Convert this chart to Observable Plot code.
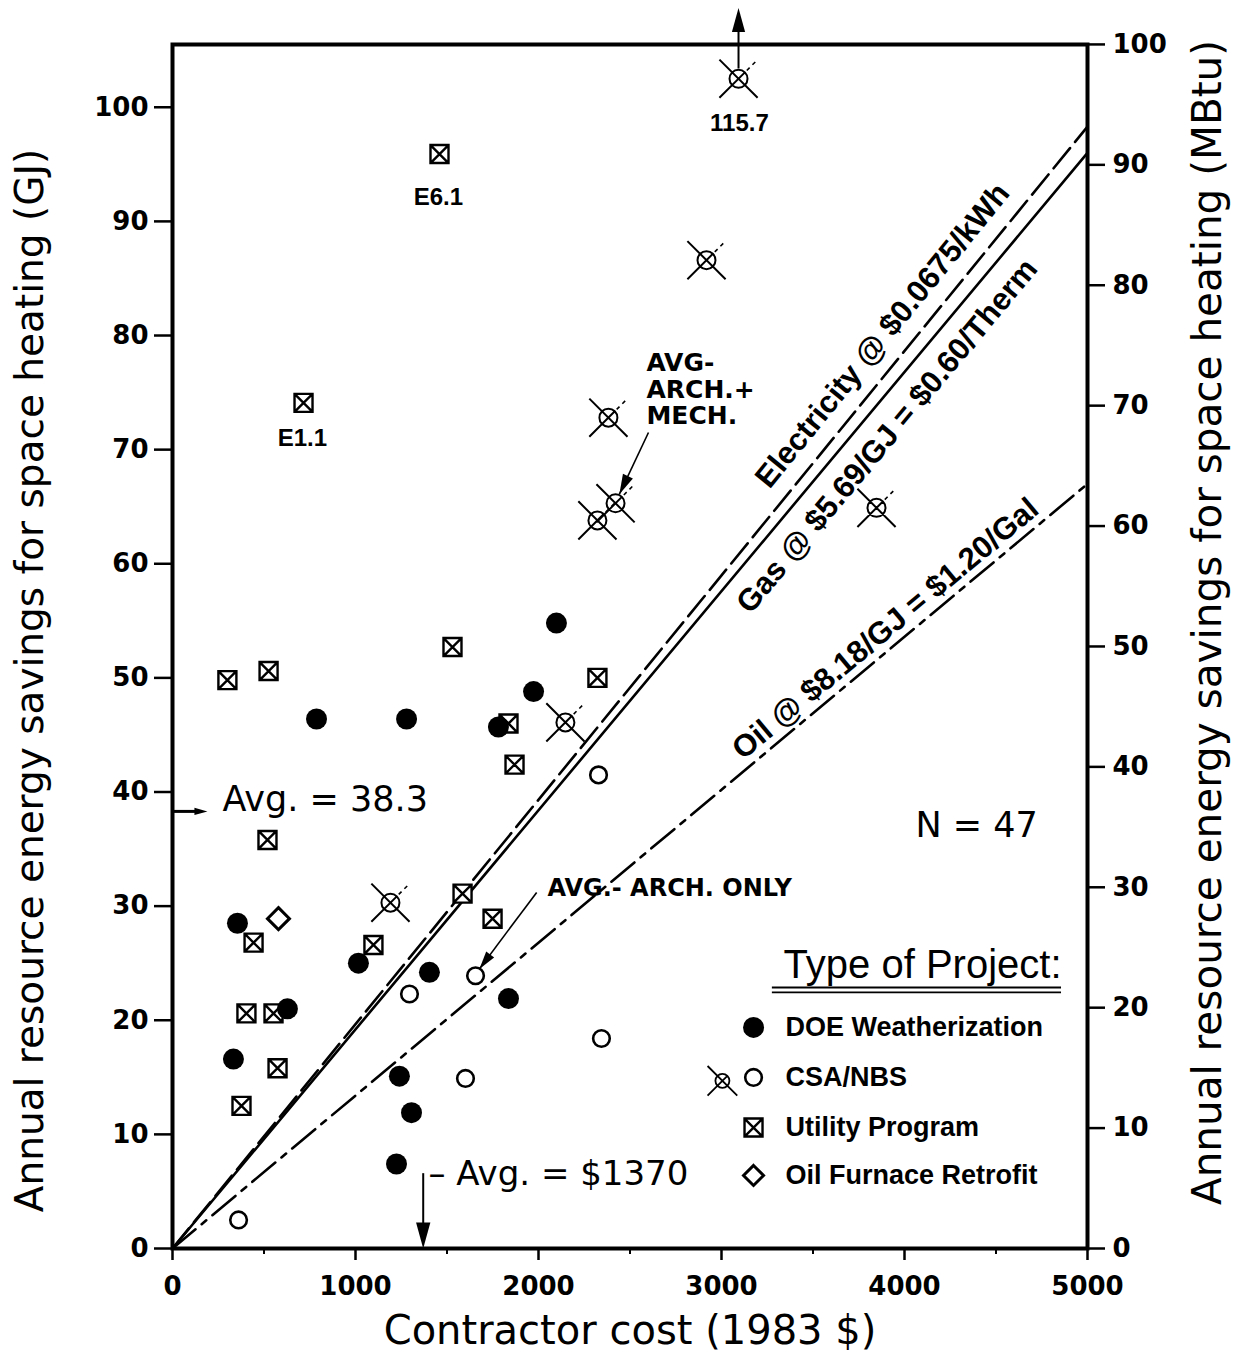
<!DOCTYPE html>
<html>
<head>
<meta charset="utf-8">
<script src="https://cdn.jsdelivr.net/npm/d3@7"></script>
<script src="https://cdn.jsdelivr.net/npm/@observablehq/plot@0.6"></script>
<style>
  html, body { margin: 0; padding: 0; background: #fff; }
  #chart svg { display: block; }
</style>
</head>
<body>
<div id="chart"></div>
<script>
// ---------------- DATA ----------------
const xDomain = [0, 5000];          // contractor cost (1983 $)
const yDomain = [0, 105.5];         // GJ (top of frame = 100 MBtu)
const GJ_PER_MBTU = 1.05506;
const xTicks = [0, 1000, 2000, 3000, 4000, 5000];
const xMinorTicks = [500, 1500, 2500, 3500, 4500];
const yTicks = [0, 10, 20, 30, 40, 50, 60, 70, 80, 90, 100];
const mbtuTicks = [0, 10, 20, 30, 40, 50, 60, 70, 80, 90, 100];

// [cost $, savings GJ]
const doeWeatherization = [
  [787, 46.4], [1279, 46.4], [2098, 54.8], [1973, 48.8], [1781, 45.7],
  [355, 28.5], [1016, 25.0], [1404, 24.2], [628, 21.0], [1836, 21.9],
  [333, 16.6], [1240, 15.1], [1306, 11.9], [1224, 7.4]
];
const csaNbs = [[361, 2.5], [1295, 22.3], [1656, 23.9], [1601, 14.9], [2344, 18.4], [2328, 41.5]];
const csaNbsCrossed = [
  [3093, 102.5], [2918, 86.6], [2382, 72.8], [2421, 65.3],
  [2322, 63.8], [3847, 64.9], [2147, 46.1], [1191, 30.3]
];
const utilityProgram = [
  [1459, 95.9], [716, 74.1], [300, 49.8], [525, 50.6], [1530, 52.7], [2322, 50.0],
  [1869, 42.4], [1836, 46.0], [519, 35.8], [443, 26.8], [404, 20.6], [552, 20.6],
  [574, 15.8], [377, 12.5], [1098, 26.6], [1585, 31.1], [1749, 28.9]
];
const oilFurnaceRetrofit = [[579, 28.9]];

// break-even lines: savings (GJ) at $5000
const fuelNames = ["Electricity", "Gas", "Oil"];
const fuelLabels = ["Electricity @ $0.0675/kWh", "Gas @ $5.69/GJ = $0.60/Therm", "Oil @ $8.18/GJ = $1.20/Gal"];
const fuelSavingsAt5000 = [98.3, 96.0, 67.0];
const fuelLabelAt = [[3880, 80.0], [3905, 71.2], [3896, 54.3]];

// annotations
const pointLabelText = ["E6.1", "E1.1", "115.7"];
const pointLabelAt = [[1453, 92.1], [710, 71.0], [3098, 98.6]];
const offscaleArrow = {x: 3093, from: 103.4, base: 106.6, tip: 108.7};
const avgCost = 1370;
const avgSavings = 38.3;
const sampleSize = 47;
const archMechLabel = "AVG-\nARCH.+\nMECH.";
const archMechLabelAt = [2590, 78.5];
const archMechPointer = [[2601, 71.5], [2442, 66.1]];
const archOnlyLabel = "AVG.- ARCH. ONLY";
const archOnlyLabelAt = [2049, 31.6];
const archOnlyPointer = [[1990, 31.2], [1677, 24.5]];

// legend
const legendTitle = "Type of Project:";
const legendLabels = ["DOE Weatherization", "CSA/NBS", "Utility Program", "Oil Furnace Retrofit"];
const legendRowsY = [19.37, 14.99, 10.6, 6.4];
const legendSymbolX = 3175, legendTextX = 3350, legendCrossedX = 3005;
const legendTitleAt = [4858, 24.8];
const legendUnderline = {x1: 3278, x2: 4858, y: [22.87, 22.44]};

const xTitle = "Contractor cost (1983 $)";
const yTitleLeft = "Annual resource energy savings for space heating (GJ)";
const yTitleRight = "Annual resource energy savings for space heating (MBtu)";

// ---------------- LAYOUT ----------------
const W = 1237, H = 1354;
const mL = 172, mR = 150, mT = 44, mB = 106;
const pxX = (W - mL - mR) / (xDomain[1] - xDomain[0]);
const pxY = (H - mT - mB) / (yDomain[1] - yDomain[0]);
const headingDeg = (a, b) => Math.atan2((b[0] - a[0]) * pxX, (b[1] - a[1]) * pxY) * 180 / Math.PI;
const lineAngle = s => -Math.atan((s / 5000) * pxY / pxX) * 180 / Math.PI;

// ---------------- SYMBOLS ----------------
const rOf = size => Math.sqrt(size / Math.PI);
const hourglassSquare = {draw(c, size) {
  const r = rOf(size);
  c.moveTo(-r, -r); c.lineTo(r, -r); c.lineTo(r, r); c.lineTo(-r, r); c.closePath();
  c.moveTo(-r, -r); c.lineTo(r, r); c.moveTo(r, -r); c.lineTo(-r, r);
}};
const diamondSym = {draw(c, size) {
  const r = rOf(size);
  c.moveTo(0, -r); c.lineTo(r, 0); c.lineTo(0, r); c.lineTo(-r, 0); c.closePath();
}};
const k = Math.SQRT1_2;
const crossedSolid = {draw(c, size) {
  const r = rOf(size), L = r * 3.0;
  c.moveTo(r, 0); c.arc(0, 0, r, 0, 2 * Math.PI);
  c.moveTo(-L * k, -L * k); c.lineTo(L * k, L * k);      // UL -> LR
  c.moveTo(-L * k, L * k); c.lineTo(r * k, -r * k);      // LL -> centre -> circle edge UR
}};
const crossedDashed = {draw(c, size) {
  const r = rOf(size), L = r * 3.0;
  c.moveTo(r * 1.3 * k, -r * 1.3 * k); c.lineTo(L * k, -L * k);
}};
const arrowHead = {draw(c, size) {
  const r = rOf(size);   // tip at origin, pointing up, length 2r
  c.moveTo(0, 0); c.lineTo(r * 0.55, r * 2); c.lineTo(-r * 0.55, r * 2); c.closePath();
}};

const X = d => d[0], Y = d => d[1];
const DV = "DejaVu Sans", LS = "Liberation Sans";
const dashes = ["26,8", null, "30,8,6,8"];

const fuelLineData = fuelNames.map((f, i) => [[0, 0, f], [xDomain[1], fuelSavingsAt5000[i], f]]);

const plot = Plot.plot({
  width: W, height: H,
  marginLeft: mL, marginRight: mR, marginTop: mT, marginBottom: mB,
  x: {domain: xDomain},
  y: {domain: yDomain},
  style: {background: "white", color: "black", fontFamily: DV, overflow: "visible"},
  marks: [
    // axes
    Plot.axisY({anchor: "left", ticks: yTicks, tickSize: 18, tickPadding: 6, fontSize: 26, fontWeight: "bold", strokeWidth: 2.5, label: null}),
    Plot.axisY({anchor: "right", ticks: mbtuTicks.map(m => m * GJ_PER_MBTU), tickFormat: d => String(Math.round(d / GJ_PER_MBTU)), tickSize: 17, tickPadding: 8, fontSize: 26, fontWeight: "bold", strokeWidth: 2.5, label: null}),
    Plot.axisX({anchor: "bottom", ticks: xTicks, tickSize: 12, tickPadding: 16, fontSize: 26, fontWeight: "bold", strokeWidth: 2.5, label: null, tickFormat: d => String(d)}),
    Plot.axisX({anchor: "bottom", ticks: xMinorTicks, tickSize: 6, strokeWidth: 2, label: null, tickFormat: () => ""}),

    // break-even lines
    ...fuelLineData.map((d, i) => Plot.line(d, {x: X, y: Y, stroke: "black", strokeWidth: 2.6, strokeDasharray: dashes[i]})),
    Plot.text(fuelLabels, {
      x: (d, i) => fuelLabelAt[i][0], y: (d, i) => fuelLabelAt[i][1],
      text: d => d, rotate: (d, i) => lineAngle(fuelSavingsAt5000[i]),
      fontFamily: LS, fontWeight: "bold", fontSize: 31, textAnchor: "middle", lineAnchor: "middle"
    }),

    // points
    Plot.dot(utilityProgram, {x: X, y: Y, r: 9, symbol: hourglassSquare, fill: "white", stroke: "black", strokeWidth: 2.4}),
    Plot.dot(csaNbsCrossed, {x: X, y: Y, r: 9, symbol: crossedSolid, fill: "none", stroke: "black", strokeWidth: 2}),
    Plot.dot(csaNbsCrossed, {x: X, y: Y, r: 9, symbol: crossedDashed, fill: "none", stroke: "black", strokeWidth: 1.6, strokeDasharray: "4,4"}),
    Plot.dot(csaNbs, {x: X, y: Y, r: 8.3, fill: "white", stroke: "black", strokeWidth: 2.6}),
    Plot.dot(oilFurnaceRetrofit, {x: X, y: Y, r: 11, symbol: diamondSym, fill: "white", stroke: "black", strokeWidth: 3}),
    Plot.dot(doeWeatherization, {x: X, y: Y, r: 10.5, fill: "black", stroke: "none"}),

    // off-scale arrow for 115.7
    Plot.link([offscaleArrow], {x1: d => d.x, x2: d => d.x, y1: d => d.from, y2: d => d.base, stroke: "black", strokeWidth: 2}),
    Plot.dot([offscaleArrow], {x: d => d.x, y: d => d.tip, r: 12, symbol: arrowHead, fill: "black", stroke: "none", rotate: 0}),
    Plot.text(pointLabelText, {x: (d, i) => pointLabelAt[i][0], y: (d, i) => pointLabelAt[i][1], text: d => d, fontFamily: LS, fontWeight: "bold", fontSize: 24, textAnchor: "middle", lineAnchor: "middle"}),

    // AVG annotations
    Plot.text([archMechLabel], {x: archMechLabelAt[0], y: archMechLabelAt[1], text: d => d, fontWeight: "bold", fontSize: 25, lineHeight: 1.05, textAnchor: "start", lineAnchor: "top"}),
    Plot.link([archMechPointer], {x1: d => d[0][0], y1: d => d[0][1], x2: d => d[1][0], y2: d => d[1][1], stroke: "black", strokeWidth: 1.6}),
    Plot.dot([archMechPointer], {x: d => d[1][0], y: d => d[1][1], r: 10, symbol: arrowHead, fill: "black", stroke: "none", rotate: d => headingDeg(d[0], d[1])}),
    Plot.text([archOnlyLabel], {x: archOnlyLabelAt[0], y: archOnlyLabelAt[1], text: d => d, fontWeight: "bold", fontSize: 24, textAnchor: "start", lineAnchor: "middle"}),
    Plot.link([archOnlyPointer], {x1: d => d[0][0], y1: d => d[0][1], x2: d => d[1][0], y2: d => d[1][1], stroke: "black", strokeWidth: 1.6}),
    Plot.dot([archOnlyPointer], {x: d => d[1][0], y: d => d[1][1], r: 9, symbol: arrowHead, fill: "black", stroke: "none", rotate: d => headingDeg(d[0], d[1])}),

    // averages
    Plot.link([avgSavings], {x1: 0, x2: 140, y1: d => d, y2: d => d, stroke: "black", strokeWidth: 3}),
    Plot.dot([avgSavings], {x: 191, y: d => d, r: 6.5, symbol: arrowHead, fill: "black", stroke: "none", rotate: 90}),
    Plot.text([`Avg. = ${avgSavings}`], {x: 273, y: avgSavings + 1.0, text: d => d, fontSize: 35, textAnchor: "start", lineAnchor: "middle"}),
    Plot.link([avgCost], {x1: d => d, x2: d => d, y1: 6.6, y2: 2.0, stroke: "black", strokeWidth: 2}),
    Plot.dot([avgCost], {x: d => d, y: 0, r: 13, symbol: arrowHead, fill: "black", stroke: "none", rotate: 180}),
    Plot.text([`– Avg. = $${avgCost}`], {x: 1399, y: 6.5, text: d => d, fontSize: 34, textAnchor: "start", lineAnchor: "middle"}),
    Plot.text([`N = ${sampleSize}`], {x: 4060, y: 37.0, text: d => d, fontSize: 35, textAnchor: "start", lineAnchor: "middle"}),

    // legend
    Plot.text([legendTitle], {x: legendTitleAt[0], y: legendTitleAt[1], text: d => d, fontFamily: LS, fontSize: 40, textAnchor: "end", lineAnchor: "middle"}),
    Plot.ruleY(legendUnderline.y, {x1: legendUnderline.x1, x2: legendUnderline.x2, stroke: "black", strokeWidth: 1.8}),
    Plot.dot([legendRowsY[0]], {x: legendSymbolX, y: d => d, r: 10.5, fill: "black"}),
    Plot.dot([legendRowsY[1]], {x: legendSymbolX, y: d => d, r: 8.3, fill: "white", stroke: "black", strokeWidth: 2.6}),
    Plot.dot([legendRowsY[1]], {x: legendCrossedX, y: d => d - 0.3, r: 7, symbol: crossedSolid, fill: "none", stroke: "black", strokeWidth: 1.8}),
    Plot.dot([legendRowsY[2]], {x: legendSymbolX, y: d => d, r: 9, symbol: hourglassSquare, fill: "white", stroke: "black", strokeWidth: 2.4}),
    Plot.dot([legendRowsY[3]], {x: legendSymbolX, y: d => d, r: 10, symbol: diamondSym, fill: "white", stroke: "black", strokeWidth: 3}),
    Plot.text(legendLabels, {x: legendTextX, y: (d, i) => legendRowsY[i], text: d => d, fontFamily: LS, fontWeight: "bold", fontSize: 27, textAnchor: "start", lineAnchor: "middle"}),

    // titles
    Plot.text([xTitle], {frameAnchor: "bottom", dy: 83, text: d => d, fontSize: 40, textAnchor: "middle", lineAnchor: "middle"}),
    Plot.text([yTitleLeft], {frameAnchor: "left", dx: -142, dy: 34, rotate: -90, text: d => d, fontSize: 39, textAnchor: "middle", lineAnchor: "middle"}),
    Plot.text([yTitleRight], {frameAnchor: "right", dx: 121, dy: -24, rotate: -90, text: d => d, fontSize: 40.5, textAnchor: "middle", lineAnchor: "middle"}),

    Plot.frame({stroke: "black", strokeWidth: 4})
  ]
});
document.getElementById("chart").appendChild(plot);
</script>
</body>
</html>
